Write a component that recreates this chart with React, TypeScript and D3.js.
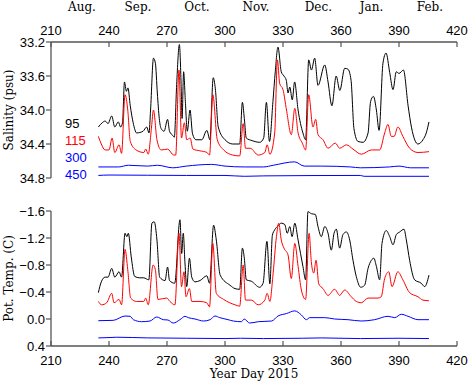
import React from "react";
import * as d3 from "d3";

// ---------- DATA ----------
const xTicks = [210, 240, 270, 300, 330, 360, 390, 420];
const monthLabels = ["Aug.", "Sep.", "Oct.", "Nov.", "Dec.", "Jan.", "Feb."];
const monthDays = [226, 255, 285.5, 316, 348.3, 375.8, 406];
const salTicks = [33.2, 33.6, 34.0, 34.4, 34.8];
const tempTicks = [-1.6, -1.2, -0.8, -0.4, 0.0, 0.4];
const depthLabels = ["95", "115", "300", "450"];

const sal95: [number, number][] = [
  [234.5, 34.2], [236.5, 34.15], [238, 34.13], [239.5, 34.16], [241.4, 34.07], [243, 34.2], [244.8, 34.14], [246, 34.2],
  [247, 34.15], [248, 33.67], [249, 33.78], [249.8, 33.74], [251, 33.95], [252.5, 34.15], [254.3, 34.27], [257.6, 34.25],
  [259.5, 34.2], [260.7, 34.27], [261.5, 34.0], [263, 33.39], [264, 33.45], [265, 33.8], [266, 34.1], [267, 34.22],
  [268.5, 34.25], [270.3, 34.11], [271.3, 34.25], [273, 34.3], [273.8, 34.32], [275, 33.7], [276.4, 33.23], [277.3, 33.7],
  [277.8, 34.1], [278.6, 33.55], [279.5, 33.9], [280.5, 34.25], [281.9, 34.0], [283.2, 34.28], [285, 34.35], [288, 34.35],
  [290.6, 34.24], [292.2, 34.35], [293.9, 33.62], [295, 33.75], [296.5, 34.2], [300, 34.35], [304, 34.4], [307.6, 34.4],
  [309, 33.91], [310, 34.1], [311, 34.33], [314, 34.36], [318, 34.38], [320, 34.33], [321.4, 33.91], [323, 34.37],
  [324.8, 33.9], [326, 33.55], [327.4, 33.26], [329.1, 33.55], [330.5, 33.6], [331.7, 33.65], [332.6, 33.8], [333.5, 33.73],
  [334.8, 33.88], [336, 33.67], [337.8, 34.0], [340.3, 34.27], [341.7, 34.35], [343.3, 33.41], [344.7, 33.53], [346.4, 33.39],
  [348.1, 33.71], [351.6, 33.47], [353.3, 33.67], [355.3, 33.95], [357.5, 33.6], [359.4, 33.77], [361.9, 33.51], [363.6, 33.52],
  [365.2, 33.65], [366.7, 34.22], [368.8, 34.37], [371.4, 34.38], [374, 34.27], [375.3, 33.9], [376.8, 33.84], [378.3, 34.0],
  [379.7, 34.24], [381.7, 33.45], [383.3, 33.33], [385.2, 33.56], [386.9, 33.76], [388.6, 33.55], [390, 33.57], [392.3, 33.53],
  [394.7, 33.95], [396.5, 34.21], [399.8, 34.4], [402.4, 34.35], [404.1, 34.27], [405.5, 34.14],
];

const sal115: [number, number][] = [
  [234.5, 34.31], [236, 34.4], [238, 34.47], [240, 34.47], [241.6, 34.33], [243, 34.5], [245.2, 34.41], [246.5, 34.51],
  [248.3, 33.82], [249.7, 34.0], [251, 34.37], [254, 34.47], [258, 34.5], [259, 34.46], [260.3, 34.52], [262, 34.2],
  [263, 34.0], [264.8, 34.35], [267, 34.47], [270.3, 34.46], [273.5, 34.53], [274.5, 34.53], [276.2, 33.53], [277.5, 34.33],
  [279, 34.15], [280.2, 34.35], [282, 34.33], [283.4, 34.46], [287, 34.48], [290.7, 34.5], [292, 34.53], [293.7, 33.82],
  [296, 34.35], [299.3, 34.47], [304, 34.53], [307.6, 34.54], [309.4, 34.16], [310.6, 34.45], [313, 34.45], [317.2, 34.53],
  [320.6, 34.5], [321.8, 34.41], [323.2, 34.52], [325.7, 34.27], [327.1, 33.41], [328.3, 33.69], [330, 33.76], [331.8, 34.0],
  [334.3, 34.29], [336.1, 33.98], [337.8, 34.27], [340, 34.39], [341.7, 34.47], [343.3, 33.82], [345.5, 34.2], [346.9, 34.11],
  [348.1, 34.29], [350.7, 34.35], [353.3, 34.45], [357.1, 34.39], [359.3, 34.45], [362.8, 34.41], [366.2, 34.46], [370.5, 34.52],
  [375.7, 34.47], [380, 34.47], [382.6, 34.27], [384.3, 34.17], [386, 34.31], [387.5, 34.31], [389.4, 34.2], [392, 34.31],
  [395.5, 34.45], [399.8, 34.5], [405.5, 34.49],
];

const sal300: [number, number][] = [
  [234.5, 34.67], [245, 34.67], [250, 34.65], [260, 34.66], [265, 34.65], [273, 34.68], [280, 34.66], [293, 34.64],
  [300, 34.66], [310, 34.67], [320, 34.67], [325, 34.65], [336, 34.61], [341, 34.66], [350, 34.66], [365, 34.67],
  [370, 34.68], [385, 34.67], [390, 34.66], [396, 34.68], [405.5, 34.68],
];

const sal450: [number, number][] = [
  [234.5, 34.77], [240, 34.765], [280, 34.77], [300, 34.77], [310, 34.78], [320, 34.775], [370, 34.77], [372, 34.78], [405.5, 34.78],
];

const temp95: [number, number][] = [
  [234.5, -0.39], [236, -0.55], [238, -0.62], [239.5, -0.62], [241.4, -0.75], [243, -0.62], [245.2, -0.7], [246.5, -0.62],
  [248.3, -1.27], [249.2, -1.22], [250, -1.27], [251.5, -0.92], [253.3, -0.63], [255.9, -0.61], [258, -0.61], [260.6, -0.58],
  [262.2, -1.42], [263.4, -1.44], [264.8, -1.17], [266.2, -0.62], [269, -0.57], [270.3, -0.77], [271.3, -0.57], [274, -0.53],
  [276.7, -1.47], [277.6, -0.97], [278.4, -1.27], [279.3, -0.83], [280.2, -0.48], [281.6, -0.9], [282.8, -0.62], [284.5, -0.55],
  [287.1, -0.57], [290.6, -0.64], [292, -0.53], [294.1, -1.39], [295.5, -1.17], [297.5, -0.65], [302.6, -0.5], [305.2, -0.45],
  [307.6, -0.44], [309, -1.05], [310, -0.9], [311, -0.58], [313.6, -0.56], [317.9, -0.47], [319.7, -0.53], [321.7, -1.15],
  [323.2, -0.52], [324.5, -1.24], [325.7, -1.32], [327.4, -1.38], [329.1, -1.42], [330.9, -1.4], [332.2, -1.27], [333.5, -1.37],
  [334.7, -1.22], [336.1, -1.42], [337.8, -1.17], [340.3, -0.78], [341.7, -0.58], [342.9, -1.59], [344.7, -1.56], [346.7, -1.55],
  [348.1, -1.37], [349.8, -1.22], [351.6, -1.37], [353.3, -1.27], [355, -1.02], [356.4, -1.27], [357.6, -1.33], [359.3, -1.05],
  [361, -1.25], [362.8, -1.29], [364.5, -1.17], [366.2, -0.87], [367.9, -0.63], [370.2, -0.47], [372.2, -0.5], [374, -0.75],
  [375.7, -0.87], [377, -0.9], [378.3, -0.78], [380, -0.58], [381.2, -1.12], [383.4, -1.31], [385.2, -1.22], [386.9, -1.1],
  [388.6, -1.25], [390.4, -1.29], [392.6, -1.33], [393.8, -1.17], [395.5, -0.87], [398.1, -0.58], [401.5, -0.53], [403.3, -0.48],
  [405.5, -0.65],
];

const temp115: [number, number][] = [
  [234.5, -0.26], [236.2, -0.21], [238.8, -0.24], [241.4, -0.38], [242.6, -0.24], [245.2, -0.29], [246.5, -0.21], [248.3, -1.03],
  [249.7, -0.73], [251.2, -0.31], [254.3, -0.26], [258, -0.26], [259, -0.31], [260.3, -0.21], [262.8, -0.8], [264, -0.73],
  [265.3, -0.29], [269.9, -0.31], [271.5, -0.26], [274.1, -0.21], [276.2, -1.27], [277.5, -0.48], [278.8, -0.7], [279.8, -0.33],
  [281.6, -0.45], [282.8, -0.26], [287.1, -0.26], [290.6, -0.24], [292, -0.18], [293.7, -1.12], [295.5, -0.38], [299.3, -0.29],
  [305.2, -0.21], [307.6, -0.19], [309.4, -0.8], [310.6, -0.28], [313.6, -0.28], [317.2, -0.21], [320.6, -0.28], [321.8, -0.38],
  [323.2, -0.26], [324.9, -0.68], [326.6, -1.22], [327.8, -1.42], [329.1, -1.17], [330.5, -1.05], [332.6, -0.95], [334.3, -0.6],
  [336.1, -1.12], [337.8, -0.78], [339.5, -0.43], [341.7, -0.29], [343.5, -1.27], [344.7, -0.83], [345.9, -0.68], [347.1, -0.87],
  [348.5, -0.52], [350.7, -0.45], [353.3, -0.35], [356.7, -0.44], [359.3, -0.35], [361.9, -0.43], [365.3, -0.33], [367.9, -0.26],
  [370.5, -0.24], [374, -0.31], [379.1, -0.31], [380.8, -0.33], [382.6, -0.6], [384.7, -0.7], [386.4, -0.48], [389.4, -0.7],
  [392, -0.58], [395.5, -0.39], [399.8, -0.33], [402.4, -0.28], [405.5, -0.27],
];

const temp300: [number, number][] = [
  [234.5, 0.025], [242.2, 0.02], [248.3, -0.044], [250.9, -0.04], [252.6, 0.01], [256.9, 0.04], [261.2, 0.03], [264.7, -0.03],
  [268.1, 0.01], [270.5, 0.015], [273.2, 0.06], [276.7, 0.01], [279.3, -0.04], [281, -0.02], [284.5, 0.0], [288.9, 0.03],
  [292.3, 0.01], [294.8, -0.044], [297.3, -0.02], [301.6, 0.01], [304.3, 0.03], [308.5, 0.04], [309.9, 0.0], [312.8, 0.06],
  [317.2, 0.04], [324.1, 0.03], [327.4, -0.044], [331.7, -0.08], [336.1, -0.12], [339.5, -0.06], [342.1, 0.01], [343.8, -0.02],
  [351.6, -0.02], [356.7, 0.0], [363.6, 0.01], [370.5, 0.03], [377.4, 0.01], [384.3, -0.04], [387.8, -0.02], [391.2, -0.07],
  [394.7, -0.04], [399.8, 0.01], [405.5, 0.01],
];

const temp450: [number, number][] = [
  [234.5, 0.28], [240, 0.275], [244, 0.27], [260, 0.28], [280, 0.285], [300, 0.29], [308, 0.285], [320, 0.29], [340, 0.285],
  [350, 0.28], [370, 0.29], [390, 0.285], [405.5, 0.29],
];

// ---------- LAYOUT ----------
const W = 468;
const H = 382;
const left = 51;
const right = 457;
const topY0 = 42;
const topY1 = 178;
const botY0 = 211;
const botY1 = 346;

const colors = ["#000000", "#ff0000", "#0000ff", "#0000ff"];
const tickFont = "'Liberation Sans', Arial, sans-serif";
const serifFont = "'DejaVu Serif', serif";

export default function App() {
  const x = d3.scaleLinear().domain([210, 420]).range([left, right]);
  const ys = d3.scaleLinear().domain([33.2, 34.8]).range([topY0, topY1]);
  const yt = d3.scaleLinear().domain([-1.6, 0.4]).range([botY0, botY1]);

  const lineS = d3.line<[number, number]>().x((d) => x(d[0])).y((d) => ys(d[1])).curve(d3.curveMonotoneX);
  const lineT = d3.line<[number, number]>().x((d) => x(d[0])).y((d) => yt(d[1])).curve(d3.curveMonotoneX);

  const salSeries = [sal95, sal115, sal300, sal450];
  const tempSeries = [temp95, temp115, temp300, temp450];
  const axisColor = "#555";

  return (
    <svg width={W} height={H} style={{ position: "absolute", left: 0, top: 0, background: "#fff" }}>
      {/* Top panel axes */}
      <line x1={left} x2={right} y1={topY0} y2={topY0} stroke={axisColor} strokeWidth={1.3} />
      <line x1={left} x2={left} y1={topY0} y2={topY1} stroke={axisColor} strokeWidth={1.3} />
      {xTicks.map((t) => (
        <g key={"tt" + t}>
          <line x1={x(t)} x2={x(t)} y1={topY0} y2={topY0 + 5} stroke={axisColor} strokeWidth={1.2} />
          <text x={x(t)} y={35} fontSize={13} fontFamily={tickFont} textAnchor="middle" fill="#000">{t}</text>
        </g>
      ))}
      {monthLabels.map((m, i) => (
        <text key={m} x={x(monthDays[i])} y={11} fontSize={12} fontFamily={serifFont} textAnchor="middle" fill="#000">{m}</text>
      ))}
      {salTicks.map((t) => (
        <g key={"st" + t}>
          <line x1={left - 5} x2={left} y1={ys(t)} y2={ys(t)} stroke={axisColor} strokeWidth={1.2} />
          <text x={left - 6} y={ys(t) + 4.5} fontSize={13} fontFamily={tickFont} textAnchor="end" fill="#000">{t.toFixed(1)}</text>
        </g>
      ))}
      <text transform={`translate(13, ${(topY0 + topY1) / 2}) rotate(-90)`} fontSize={12} fontFamily={serifFont} textAnchor="middle" fill="#000">Salinity (psu)</text>

      {/* Legend */}
      {depthLabels.map((d, i) => (
        <text key={d} x={65} y={128 + i * 17} fontSize={13} fontFamily={tickFont} fill={colors[i]}>{d}</text>
      ))}

      {salSeries.map((s, i) => (
        <path key={"s" + i} d={lineS(s) || ""} fill="none" stroke={colors[i]} strokeWidth={1} />
      ))}

      {/* Bottom panel axes */}
      <line x1={left} x2={right} y1={botY1} y2={botY1} stroke={axisColor} strokeWidth={1.3} />
      <line x1={left} x2={left} y1={botY0} y2={botY1} stroke={axisColor} strokeWidth={1.3} />
      {xTicks.map((t) => (
        <g key={"bt" + t}>
          <line x1={x(t)} x2={x(t)} y1={botY1} y2={botY1 - 5} stroke={axisColor} strokeWidth={1.2} />
          <text x={x(t)} y={365} fontSize={13} fontFamily={tickFont} textAnchor="middle" fill="#000">{t}</text>
        </g>
      ))}
      {tempTicks.map((t) => (
        <g key={"tk" + t}>
          <line x1={left - 5} x2={left} y1={yt(t)} y2={yt(t)} stroke={axisColor} strokeWidth={1.2} />
          <text x={left - 6} y={yt(t) + 4.5} fontSize={13} fontFamily={tickFont} textAnchor="end" fill="#000">{t === 0 ? "0.0" : t.toFixed(1).replace("-", "\u2212")}</text>
        </g>
      ))}
      <text transform={`translate(13, ${(botY0 + botY1) / 2}) rotate(-90)`} fontSize={12} fontFamily={serifFont} textAnchor="middle" fill="#000">Pot. Temp. (C)</text>
      <text x={x(315)} y={378} fontSize={12} fontFamily={serifFont} textAnchor="middle" fill="#000">Year Day 2015</text>

      {tempSeries.map((s, i) => (
        <path key={"t" + i} d={lineT(s) || ""} fill="none" stroke={colors[i]} strokeWidth={1} />
      ))}
    </svg>
  );
}
